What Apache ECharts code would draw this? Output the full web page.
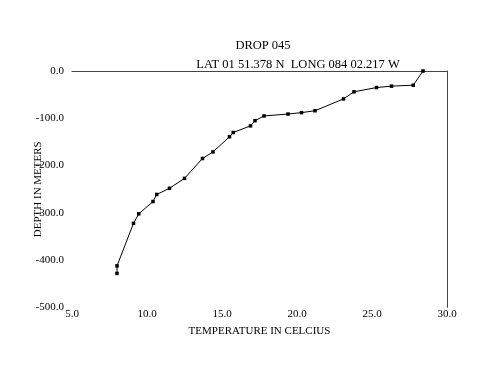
<!DOCTYPE html>
<html>
<head>
<meta charset="utf-8">
<script src="https://cdn.jsdelivr.net/npm/echarts@6/dist/echarts.min.js"></script>
<style>html,body{margin:0;padding:0;background:#fff}#c{width:500px;height:386px}</style>
</head>
<body>
<div id="c"></div>
<script>
var temperature = [28.4, 27.75, 26.3, 25.3, 23.8, 23.1, 21.2, 20.3, 19.4, 17.8, 17.2, 16.9, 15.75, 15.5, 14.4, 13.7, 12.5, 11.5, 10.65, 10.4, 9.45, 9.1, 8.0, 8.0];
var depth = [0, -30, -32, -35, -44, -59, -84, -88, -91, -95, -105, -116, -130, -139, -171, -185, -227, -248, -261, -276, -302, -322, -412, -428];
var titleText = 'DROP 045';
var subtitleText = 'LAT 01 51.378 N  LONG 084 02.217 W';
var xName = 'TEMPERATURE IN CELCIUS';
var yName = 'DEPTH IN METERS';

var pts = temperature.map(function (t, i) { return [t, depth[i]]; });
var font = '"Liberation Serif", "DejaVu Serif", serif';
var chart = echarts.init(document.getElementById('c'), null, {renderer: 'canvas'});
chart.setOption({
  animation: false,
  backgroundColor: '#fff',
  title: [
    {text: titleText, left: 258, top: 34, textAlign: 'center',
     textStyle: {fontFamily: font, fontSize: 12.5, fontWeight: 'normal', color: '#000'}},
    {text: subtitleText, left: 293, top: 53, textAlign: 'center',
     textStyle: {fontFamily: font, fontSize: 12.5, fontWeight: 'normal', color: '#000'}}
  ],
  grid: {left: 72, right: 53, top: 71, bottom: 78.5},
  xAxis: [
    {type: 'value', position: 'bottom', min: 5, max: 30, interval: 5,
     axisLine: {show: false}, axisTick: {show: false}, splitLine: {show: false},
     axisLabel: {fontFamily: font, fontSize: 11, color: '#000', margin: 1,
       formatter: function (v) { return v.toFixed(1); }},
     name: xName, nameLocation: 'middle', nameGap: 18, nameMoveOverlap: false,
     nameTextStyle: {fontFamily: font, fontSize: 11, color: '#000'}},
    {type: 'value', position: 'top', min: 5, max: 30, interval: 5,
     axisLine: {show: true, onZero: false, lineStyle: {color: '#444', width: 1}},
     axisTick: {show: false}, axisLabel: {show: false}, splitLine: {show: false}}
  ],
  yAxis: [
    {type: 'value', position: 'left', min: -500, max: 0, interval: 100,
     axisLine: {show: false}, axisTick: {show: false}, splitLine: {show: false},
     axisLabel: {fontFamily: font, fontSize: 11, color: '#000', margin: 8,
       formatter: function (v) { return v.toFixed(1); }},
     name: yName, nameLocation: 'middle', nameGap: 28, nameRotate: 90, nameMoveOverlap: false,
     nameTextStyle: {fontFamily: font, fontSize: 11, color: '#000'}},
    {type: 'value', position: 'right', min: -500, max: 0, interval: 100,
     axisLine: {show: true, onZero: false, lineStyle: {color: '#444', width: 1}},
     axisTick: {show: false}, axisLabel: {show: false}, splitLine: {show: false}}
  ],
  series: [{
    type: 'line', data: pts, xAxisIndex: 0, yAxisIndex: 0,
    symbol: 'rect', symbolSize: 3.5, showSymbol: true,
    lineStyle: {color: '#000', width: 1},
    itemStyle: {color: '#000'}
  }]
});
</script>
</body>
</html>
